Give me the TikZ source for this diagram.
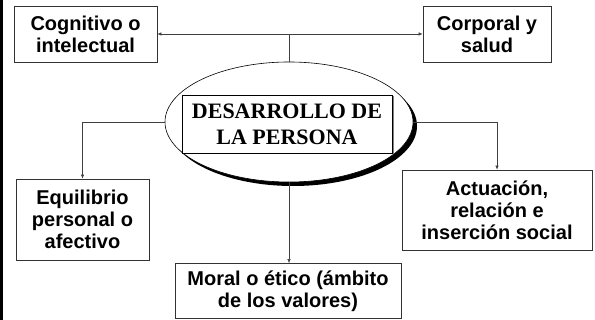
\documentclass[tikz,border=0pt]{standalone}
\usepackage{fontspec}
\setmainfont{Liberation Serif}
\setsansfont{Liberation Sans}
\usepackage{tikz}
\usetikzlibrary{arrows.meta,shapes.geometric,shadows}
\usepackage{xcolor}
\tikzstyle{areabox}=[draw=black!80, line width=0.7pt, fill=white, align=center, inner sep=0pt,
	font=\sffamily\bfseries\fontsize{20}{22}\selectfont]
\tikzstyle{link}=[draw=black!75, line width=0.6pt]
\tikzstyle{linkarrow}=[link, -{Latex[length=4pt,width=3.5pt]}]
\begin{document}
\begin{tikzpicture}[x=1pt,y=1pt]
	\useasboundingbox (0,0) rectangle (595,320);
	\fill[black] (0,0) rectangle (3,320);
	% centre
	\node[ellipse, draw=black, line width=0.6pt, fill=white, minimum width=248pt, minimum height=120pt,
		drop shadow={shadow xshift=4pt, shadow yshift=-4pt, opacity=1, fill=black}] (ell) at (289,198) {};
	\node[draw=black, line width=0.7pt, fill=white, align=center, minimum width=210pt, minimum height=58pt,
		font=\rmfamily\bfseries\fontsize{22}{26}\selectfont,
		drop shadow={shadow xshift=1.5pt, shadow yshift=-1.5pt, opacity=1, fill=gray}] (core) at (287,196) {DESARROLLO DE\\LA PERSONA};
	% areas
	\node[areabox, minimum width=143pt, minimum height=56pt] (cog) at (85.5,286) {Cognitivo o\\intelectual};
	\node[areabox, minimum width=128pt, minimum height=56pt] (corp) at (487,286) {Corporal y\\salud};
	\node[areabox, minimum width=133pt, minimum height=81pt] (equi) at (82.5,100.5) {Equilibrio\\personal o\\afectivo};
	\node[areabox, minimum width=190pt, minimum height=80pt] (act) at (497,110) {Actuación,\\relación e\\inserción social};
	\node[areabox, minimum width=226pt, minimum height=55pt] (moral) at (288,29) {Moral o ético (ámbito\\de los valores)};
	% links
	\coordinate (top) at (289,286);
	\draw[link] (ell.north) -- (top);
	\draw[linkarrow] (top) -- (cog.east);
	\draw[linkarrow] (top) -- (corp.west);
	\draw[linkarrow] (ell.west) -| (equi.north);
	\draw[linkarrow] (ell.east) -| (act.north);
	\draw[linkarrow] (ell.south) -- (ell.south |- moral.north);
\end{tikzpicture}
\end{document}
